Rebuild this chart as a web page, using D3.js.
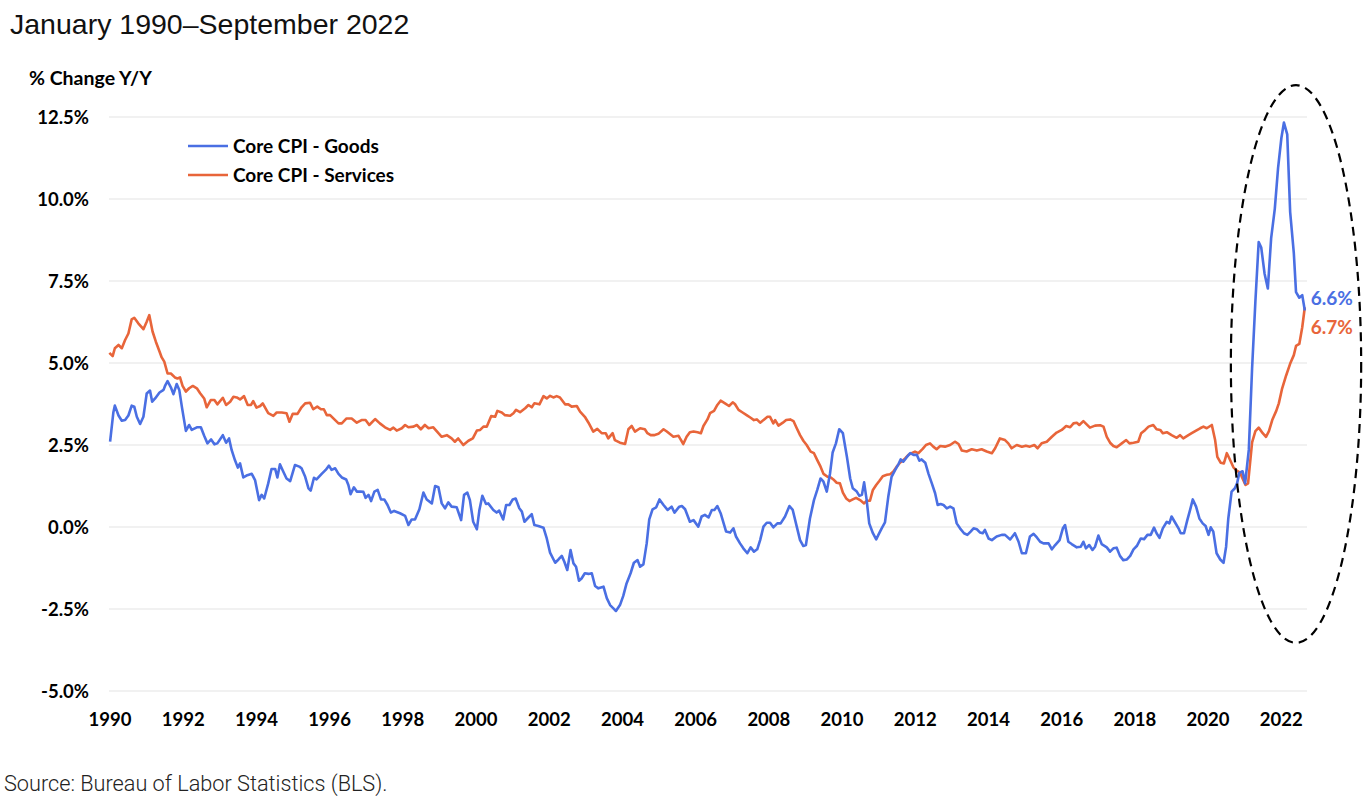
<!DOCTYPE html>
<html>
<head>
<meta charset="utf-8">
<script src="https://cdn.jsdelivr.net/npm/d3@7"></script>
<style>
  body { margin: 0; background: #fff; }
  svg { display: block; }
</style>
</head>
<body>
<script>
// Core CPI y/y % change as [year, value]
const goods = [
  [1990.03,2.6],[1990.12,3.5],[1990.16,3.7],[1990.26,3.4],[1990.35,3.24],[1990.44,3.26],[1990.53,3.4],[1990.62,3.7],
  [1990.69,3.67],[1990.76,3.36],[1990.85,3.14],[1990.94,3.36],[1991.03,4.07],[1991.12,4.16],[1991.18,3.82],[1991.26,3.92],
  [1991.38,4.1],[1991.49,4.18],[1991.53,4.3],[1991.6,4.45],[1991.69,4.26],[1991.76,4.05],[1991.85,4.36],[1991.92,4.18],
  [1991.99,3.67],[1992.1,2.93],[1992.19,3.11],[1992.26,2.96],[1992.4,3.04],[1992.51,3.04],[1992.6,2.78],[1992.69,2.55],
  [1992.79,2.67],[1992.88,2.52],[1992.96,2.55],[1993.11,2.8],[1993.2,2.57],[1993.28,2.7],[1993.35,2.35],[1993.44,2.04],
  [1993.52,1.81],[1993.58,1.94],[1993.67,1.51],[1993.78,1.58],[1993.9,1.62],[1993.99,1.43],[1994.1,0.82],[1994.17,0.98],
  [1994.24,0.87],[1994.35,1.33],[1994.44,1.77],[1994.54,1.77],[1994.6,1.51],[1994.67,1.91],[1994.76,1.69],[1994.85,1.48],
  [1994.95,1.4],[1995.08,1.89],[1995.2,1.84],[1995.26,1.79],[1995.36,1.53],[1995.45,1.18],[1995.51,1.11],[1995.6,1.5],
  [1995.67,1.45],[1995.81,1.62],[1995.92,1.74],[1996.01,1.87],[1996.08,1.74],[1996.18,1.79],[1996.27,1.62],[1996.36,1.51],
  [1996.48,1.45],[1996.54,1.28],[1996.6,1.0],[1996.69,1.21],[1996.77,1.08],[1996.86,1.08],[1996.95,1.07],[1997.01,0.89],
  [1997.09,0.98],[1997.16,0.79],[1997.25,1.08],[1997.34,1.13],[1997.43,0.84],[1997.52,0.84],[1997.61,0.67],[1997.7,0.44],
  [1997.79,0.49],[1997.95,0.42],[1998.09,0.34],[1998.18,0.06],[1998.27,0.23],[1998.36,0.23],[1998.48,0.54],[1998.59,1.05],
  [1998.68,0.84],[1998.82,0.72],[1998.91,1.25],[1999.0,1.21],[1999.09,0.72],[1999.18,0.57],[1999.27,0.75],[1999.36,0.62],
  [1999.5,0.6],[1999.62,0.21],[1999.7,0.98],[1999.79,1.05],[1999.86,0.82],[1999.95,0.16],[2000.05,-0.07],[2000.12,0.52],
  [2000.2,0.95],[2000.3,0.7],[2000.36,0.72],[2000.5,0.52],[2000.59,0.44],[2000.66,0.5],[2000.77,0.23],[2000.85,0.67],
  [2000.94,0.67],[2001.03,0.84],[2001.11,0.87],[2001.21,0.57],[2001.28,0.47],[2001.35,0.16],[2001.46,0.29],[2001.55,0.39],
  [2001.62,0.06],[2001.73,0.03],[2001.87,-0.02],[2001.96,-0.35],[2002.05,-0.78],[2002.19,-1.09],[2002.28,-0.99],[2002.37,-0.88],
  [2002.44,-1.06],[2002.52,-1.31],[2002.61,-0.7],[2002.69,-1.11],[2002.76,-1.21],[2002.84,-1.64],[2002.91,-1.57],[2003.0,-1.41],
  [2003.1,-1.43],[2003.19,-1.41],[2003.28,-1.8],[2003.37,-1.87],[2003.51,-1.82],[2003.6,-2.17],[2003.69,-2.38],[2003.78,-2.48],
  [2003.85,-2.56],[2003.96,-2.38],[2004.05,-2.1],[2004.14,-1.72],[2004.25,-1.41],[2004.34,-1.09],[2004.44,-1.01],[2004.51,-1.21],
  [2004.6,-1.14],[2004.69,-0.5],[2004.76,0.23],[2004.85,0.54],[2004.95,0.6],[2005.04,0.84],[2005.15,0.67],[2005.26,0.52],
  [2005.37,0.62],[2005.45,0.44],[2005.58,0.62],[2005.65,0.64],[2005.74,0.54],[2005.87,0.16],[2005.97,0.21],[2006.1,0.01],
  [2006.19,0.32],[2006.28,0.37],[2006.38,0.29],[2006.47,0.52],[2006.54,0.52],[2006.62,0.64],[2006.71,0.42],[2006.86,-0.14],
  [2006.97,-0.17],[2007.06,-0.04],[2007.13,-0.29],[2007.24,-0.5],[2007.33,-0.65],[2007.44,-0.8],[2007.53,-0.62],[2007.62,-0.75],
  [2007.71,-0.68],[2007.79,-0.4],[2007.88,0.01],[2007.97,0.13],[2008.06,0.13],[2008.15,-0.01],[2008.26,0.11],[2008.35,0.11],
  [2008.47,0.32],[2008.59,0.64],[2008.68,0.52],[2008.79,0.01],[2008.88,-0.4],[2008.97,-0.58],[2009.04,-0.55],[2009.15,0.26],
  [2009.26,0.82],[2009.35,1.13],[2009.44,1.48],[2009.52,1.38],[2009.61,1.08],[2009.7,1.64],[2009.77,2.27],[2009.86,2.55],
  [2009.95,2.98],[2010.05,2.86],[2010.16,2.14],[2010.25,1.48],[2010.32,1.18],[2010.43,1.08],[2010.5,0.95],[2010.57,0.98],
  [2010.63,1.36],[2010.7,0.82],[2010.77,0.11],[2010.87,-0.19],[2010.96,-0.38],[2011.02,-0.24],[2011.11,-0.04],[2011.2,0.14],
  [2011.29,0.92],[2011.38,1.53],[2011.48,1.74],[2011.57,1.92],[2011.63,2.06],[2011.7,1.99],[2011.79,2.12],[2011.89,2.25],
  [2011.98,2.2],[2012.07,2.2],[2012.14,2.02],[2012.2,2.06],[2012.3,1.96],[2012.39,1.62],[2012.48,1.33],[2012.57,1.03],
  [2012.64,0.67],[2012.72,0.7],[2012.8,0.67],[2012.89,0.57],[2012.98,0.62],[2013.07,0.57],[2013.16,0.11],[2013.25,-0.04],
  [2013.36,-0.19],[2013.45,-0.24],[2013.54,-0.14],[2013.62,-0.04],[2013.71,-0.07],[2013.8,-0.17],[2013.87,-0.19],[2013.93,-0.09],
  [2014.03,-0.35],[2014.12,-0.4],[2014.25,-0.29],[2014.39,-0.24],[2014.48,-0.24],[2014.62,-0.38],[2014.75,-0.19],[2014.85,-0.45],
  [2014.94,-0.8],[2015.05,-0.8],[2015.16,-0.29],[2015.26,-0.21],[2015.35,-0.32],[2015.44,-0.45],[2015.53,-0.5],[2015.67,-0.5],
  [2015.76,-0.68],[2015.85,-0.55],[2015.97,-0.4],[2016.06,-0.04],[2016.12,0.06],[2016.21,-0.45],[2016.3,-0.52],[2016.44,-0.62],
  [2016.55,-0.6],[2016.62,-0.45],[2016.69,-0.65],[2016.78,-0.55],[2016.87,-0.7],[2016.94,-0.6],[2017.03,-0.26],[2017.12,-0.52],
  [2017.26,-0.62],[2017.35,-0.75],[2017.44,-0.65],[2017.53,-0.63],[2017.62,-0.88],[2017.71,-1.01],[2017.81,-0.99],[2017.9,-0.88],
  [2017.99,-0.68],[2018.08,-0.58],[2018.19,-0.35],[2018.28,-0.37],[2018.37,-0.24],[2018.46,-0.24],[2018.55,-0.02],[2018.62,-0.19],
  [2018.7,-0.33],[2018.79,-0.04],[2018.9,0.16],[2018.97,0.11],[2019.03,0.32],[2019.13,0.13],[2019.22,-0.04],[2019.28,-0.19],
  [2019.37,-0.19],[2019.46,0.21],[2019.54,0.54],[2019.61,0.84],[2019.7,0.62],[2019.79,0.26],[2019.88,0.11],[2019.96,0.03],
  [2020.04,-0.24],[2020.1,-0.01],[2020.17,-0.14],[2020.26,-0.8],[2020.36,-0.99],[2020.45,-1.09],[2020.52,-0.6],[2020.58,0.26],
  [2020.67,1.08],[2020.76,1.18],[2020.82,1.33],[2020.88,1.65],[2020.97,1.7],[2021.04,1.33],[2021.14,2.35],[2021.23,4.84],
  [2021.32,6.88],[2021.41,8.69],[2021.48,8.52],[2021.57,7.73],[2021.66,7.27],[2021.75,8.8],[2021.85,9.7],[2021.94,10.95],
  [2022.03,11.86],[2022.1,12.33],[2022.19,11.97],[2022.27,9.6],[2022.37,8.35],[2022.43,7.16],[2022.52,6.99],[2022.6,7.07],
  [2022.67,6.6]
];

const services = [
  [1990.01,5.31],[1990.1,5.21],[1990.16,5.45],[1990.26,5.55],[1990.35,5.45],[1990.44,5.7],[1990.53,5.9],[1990.62,6.33],
  [1990.69,6.38],[1990.8,6.21],[1990.94,6.03],[1991.03,6.26],[1991.1,6.46],[1991.19,5.96],[1991.28,5.65],[1991.38,5.35],
  [1991.44,5.17],[1991.51,5.04],[1991.6,4.68],[1991.69,4.68],[1991.8,4.56],[1991.87,4.53],[1991.94,4.56],[1992.01,4.3],
  [1992.1,4.13],[1992.19,4.23],[1992.29,4.3],[1992.4,4.23],[1992.49,4.08],[1992.6,3.92],[1992.67,3.65],[1992.78,3.87],
  [1992.88,3.87],[1992.96,3.74],[1993.11,3.94],[1993.2,3.72],[1993.31,3.82],[1993.4,3.97],[1993.49,3.95],[1993.58,3.89],
  [1993.69,3.99],[1993.79,3.72],[1993.88,3.72],[1993.94,3.84],[1994.03,3.64],[1994.13,3.69],[1994.2,3.77],[1994.35,3.47],
  [1994.49,3.39],[1994.58,3.49],[1994.72,3.49],[1994.85,3.47],[1994.93,3.21],[1995.02,3.45],[1995.15,3.45],[1995.26,3.65],
  [1995.36,3.77],[1995.49,3.79],[1995.58,3.59],[1995.69,3.67],[1995.79,3.59],[1995.87,3.59],[1995.95,3.41],[1996.04,3.41],
  [1996.13,3.31],[1996.27,3.16],[1996.36,3.16],[1996.49,3.31],[1996.63,3.31],[1996.77,3.18],[1996.9,3.26],[1997.01,3.26],
  [1997.11,3.11],[1997.27,3.29],[1997.4,3.16],[1997.54,3.04],[1997.68,2.96],[1997.77,3.03],[1997.86,2.94],[1998.0,3.01],
  [1998.09,3.11],[1998.18,3.04],[1998.32,3.06],[1998.41,3.11],[1998.52,2.98],[1998.63,3.11],[1998.73,3.01],[1998.86,3.04],
  [1999.0,2.86],[1999.09,2.75],[1999.23,2.8],[1999.36,2.7],[1999.45,2.6],[1999.54,2.7],[1999.68,2.5],[1999.82,2.63],
  [1999.94,2.7],[2000.05,2.94],[2000.14,2.96],[2000.23,3.06],[2000.32,3.06],[2000.44,3.38],[2000.55,3.36],[2000.61,3.54],
  [2000.73,3.49],[2000.82,3.41],[2000.96,3.39],[2001.05,3.47],[2001.12,3.57],[2001.23,3.5],[2001.37,3.62],[2001.46,3.72],
  [2001.55,3.65],[2001.62,3.77],[2001.76,3.74],[2001.87,3.99],[2001.96,3.92],[2002.05,4.0],[2002.14,3.95],[2002.23,3.99],
  [2002.32,3.95],[2002.46,3.74],[2002.55,3.74],[2002.64,3.67],[2002.78,3.69],[2002.87,3.52],[2003.0,3.36],[2003.1,3.18],
  [2003.23,2.91],[2003.34,2.99],[2003.46,2.86],[2003.57,2.86],[2003.64,2.7],[2003.76,2.86],[2003.82,2.65],[2003.96,2.57],
  [2004.1,2.53],[2004.19,2.98],[2004.28,3.08],[2004.37,2.91],[2004.51,3.01],[2004.64,2.98],[2004.71,2.86],[2004.8,2.8],
  [2004.89,2.8],[2005.01,2.84],[2005.15,2.98],[2005.24,2.91],[2005.42,2.75],[2005.56,2.78],[2005.6,2.7],[2005.69,2.53],
  [2005.78,2.75],[2005.87,2.89],[2005.97,2.91],[2006.08,2.89],[2006.17,2.86],[2006.24,3.08],[2006.35,3.28],[2006.42,3.47],
  [2006.53,3.54],[2006.62,3.72],[2006.71,3.85],[2006.83,3.77],[2006.94,3.69],[2007.04,3.8],[2007.1,3.75],[2007.2,3.57],
  [2007.31,3.49],[2007.42,3.41],[2007.53,3.33],[2007.62,3.26],[2007.7,3.28],[2007.79,3.18],[2007.9,3.28],[2007.99,3.36],
  [2008.06,3.36],[2008.15,3.16],[2008.2,3.26],[2008.29,3.09],[2008.41,3.18],[2008.5,3.26],[2008.61,3.28],[2008.7,3.23],
  [2008.79,3.01],[2008.88,2.8],[2008.97,2.63],[2009.06,2.5],[2009.17,2.3],[2009.26,2.25],[2009.35,2.04],[2009.44,1.84],
  [2009.52,1.62],[2009.63,1.53],[2009.72,1.51],[2009.79,1.45],[2009.88,1.35],[2009.97,1.33],[2010.05,1.05],[2010.14,0.87],
  [2010.23,0.79],[2010.32,0.84],[2010.41,0.89],[2010.52,0.82],[2010.63,0.72],[2010.7,0.8],[2010.79,0.8],[2010.87,1.13],
  [2010.96,1.28],[2011.05,1.41],[2011.14,1.55],[2011.25,1.59],[2011.34,1.61],[2011.43,1.69],[2011.52,1.84],[2011.61,1.96],
  [2011.75,2.09],[2011.84,2.2],[2011.93,2.25],[2012.02,2.3],[2012.11,2.25],[2012.23,2.38],[2012.32,2.5],[2012.43,2.55],
  [2012.52,2.45],[2012.61,2.37],[2012.71,2.47],[2012.84,2.45],[2012.98,2.5],[2013.11,2.6],[2013.21,2.53],[2013.3,2.33],
  [2013.43,2.3],[2013.57,2.37],[2013.71,2.33],[2013.84,2.37],[2013.98,2.3],[2014.12,2.25],[2014.21,2.4],[2014.34,2.7],
  [2014.48,2.65],[2014.57,2.55],[2014.66,2.4],[2014.8,2.5],[2014.94,2.45],[2015.05,2.48],[2015.16,2.45],[2015.28,2.5],
  [2015.37,2.4],[2015.48,2.55],[2015.62,2.6],[2015.76,2.75],[2015.89,2.88],[2016.03,2.96],[2016.15,3.08],[2016.26,3.04],
  [2016.35,3.16],[2016.44,3.18],[2016.51,3.11],[2016.62,3.23],[2016.71,3.13],[2016.8,3.03],[2016.94,3.09],[2017.08,3.1],
  [2017.17,3.06],[2017.26,2.75],[2017.35,2.57],[2017.44,2.47],[2017.53,2.43],[2017.67,2.55],[2017.79,2.65],[2017.88,2.55],
  [2017.99,2.57],[2018.12,2.6],[2018.2,2.86],[2018.31,2.96],[2018.4,3.06],[2018.53,3.11],[2018.62,2.98],[2018.72,2.96],
  [2018.79,2.86],[2018.9,2.89],[2019.03,2.8],[2019.17,2.72],[2019.26,2.8],[2019.35,2.7],[2019.49,2.8],[2019.58,2.86],
  [2019.7,2.94],[2019.81,3.01],[2019.9,3.06],[2019.99,3.01],[2020.13,3.11],[2020.22,2.65],[2020.28,2.14],[2020.37,1.96],
  [2020.46,1.94],[2020.54,2.25],[2020.61,2.09],[2020.72,1.82],[2020.81,1.72],[2020.9,1.66],[2020.96,1.5],[2021.05,1.28],
  [2021.12,1.33],[2021.23,2.58],[2021.32,2.92],[2021.41,3.03],[2021.52,2.86],[2021.61,2.75],[2021.69,2.92],[2021.78,3.26],
  [2021.89,3.54],[2021.96,3.77],[2022.05,4.22],[2022.16,4.62],[2022.28,5.01],[2022.37,5.24],[2022.43,5.52],[2022.52,5.58],
  [2022.6,6.09],[2022.67,6.7]
];

const yTicks = [-5, -2.5, 0, 2.5, 5, 7.5, 10, 12.5];
const xTicks = d3.range(1990, 2023, 2);
const seriesNames = ["Core CPI - Goods", "Core CPI - Services"];
const endLabels = ["6.6%", "6.7%"];
// dashed ring round the 2021-22 surge: centre [year, %] and radii [years, %]
const ringCentre = [2022.43, 4.97];
const ringRadii = [1.78, 8.5];

const blue = "#4a6fe3";
const orange = "#e8653a";
const boldFont = "Lato, 'Open Sans', sans-serif";

const width = 1372, height = 804;

const svg = d3.select("body").append("svg")
  .attr("width", width)
  .attr("height", height);

const x = d3.scaleLinear().domain([1990, 2022.73]).range([109, 1307]);
const y = d3.scaleLinear().domain([-5, 12.5]).range([691, 117]);

// title
svg.append("text")
  .attr("x", 10).attr("y", 34)
  .attr("font-family", "'Liberation Sans', Arial, sans-serif")
  .attr("font-size", 28.5)
  .attr("fill", "#111")
  .text("January 1990\u2013September 2022");

// axis caption
svg.append("text")
  .attr("x", 29).attr("y", 85)
  .attr("font-family", boldFont)
  .attr("font-weight", 700)
  .attr("font-size", 19.5)
  .text("% Change Y/Y");

// gridlines
svg.append("g")
  .selectAll("line")
  .data(yTicks)
  .join("line")
  .attr("x1", x.range()[0]).attr("x2", x.range()[1])
  .attr("y1", d => y(d)).attr("y2", d => y(d))
  .attr("stroke", "#e3e3e3")
  .attr("stroke-width", 1.2);

// y tick labels (plain hyphen for negatives, as in the source chart)
svg.append("g")
  .selectAll("text")
  .data(yTicks)
  .join("text")
  .attr("x", 89)
  .attr("y", d => y(d) + 6.5)
  .attr("text-anchor", "end")
  .attr("font-family", boldFont)
  .attr("font-weight", 700)
  .attr("font-size", 18.5)
  .text(d => d.toFixed(1) + "%");

// x tick labels
svg.append("g")
  .selectAll("text")
  .data(xTicks)
  .join("text")
  .attr("x", d => x(d) + 1)
  .attr("y", 726)
  .attr("text-anchor", "middle")
  .attr("font-family", boldFont)
  .attr("font-weight", 700)
  .attr("font-size", 18.5)
  .text(d => d);

const line = d3.line()
  .x(d => x(d[0]))
  .y(d => y(d[1]));

svg.append("path")
  .attr("d", line(services))
  .attr("fill", "none")
  .attr("stroke", orange)
  .attr("stroke-width", 2.6)
  .attr("stroke-linejoin", "round");

svg.append("path")
  .attr("d", line(goods))
  .attr("fill", "none")
  .attr("stroke", blue)
  .attr("stroke-width", 2.6)
  .attr("stroke-linejoin", "round");

// legend
const legend = svg.append("g").attr("transform", "translate(188,146)");
[blue, orange].forEach((c, i) => {
  legend.append("line")
    .attr("x1", 0).attr("x2", 40)
    .attr("y1", i * 29).attr("y2", i * 29)
    .attr("stroke", c)
    .attr("stroke-width", 2.6);
  legend.append("text")
    .attr("x", 45).attr("y", i * 29 + 6.5)
    .attr("font-family", boldFont)
    .attr("font-weight", 700)
    .attr("font-size", 19)
    .text(seriesNames[i]);
});

// end-of-series labels
const lastG = goods[goods.length - 1], lastS = services[services.length - 1];
svg.append("text")
  .attr("x", x(lastG[0]) + 6).attr("y", y(lastG[1]) - 6)
  .attr("font-family", boldFont).attr("font-weight", 700).attr("font-size", 19)
  .attr("fill", blue)
  .text(endLabels[0]);
svg.append("text")
  .attr("x", x(lastS[0]) + 6).attr("y", y(lastS[1]) + 27)
  .attr("font-family", boldFont).attr("font-weight", 700).attr("font-size", 19)
  .attr("fill", orange)
  .text(endLabels[1]);

// dashed ring
svg.append("ellipse")
  .attr("cx", x(ringCentre[0]))
  .attr("cy", y(ringCentre[1]))
  .attr("rx", x(1990 + ringRadii[0]) - x(1990))
  .attr("ry", y(0) - y(ringRadii[1]))
  .attr("fill", "none")
  .attr("stroke", "#000")
  .attr("stroke-width", 2.2)
  .attr("stroke-dasharray", "9,6");

// source
svg.append("text")
  .attr("x", 4).attr("y", 791)
  .attr("font-family", "Roboto, sans-serif")
  .attr("font-weight", 300)
  .attr("font-size", 21.7)
  .attr("fill", "#222")
  .text("Source: Bureau of Labor Statistics (BLS).");
</script>
</body>
</html>
